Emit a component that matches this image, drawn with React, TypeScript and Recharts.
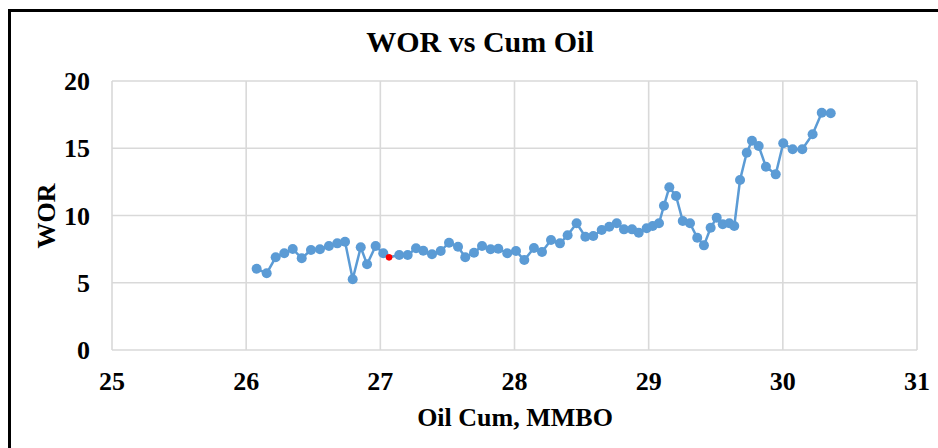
import { LineChart, Line, XAxis, YAxis, CartesianGrid } from 'recharts';

// cumulative oil, MMBO
const cumOil = [
  26.078, 26.153, 26.22, 26.284, 26.347, 26.414, 26.483, 26.55, 26.617, 26.679,
  26.737, 26.794, 26.854, 26.901, 26.965, 27.022, 27.065, 27.141, 27.204, 27.266,
  27.32, 27.385, 27.45, 27.512, 27.579, 27.633, 27.698, 27.758, 27.822, 27.879,
  27.946, 28.011, 28.073, 28.145, 28.205, 28.272, 28.339, 28.396, 28.463, 28.528,
  28.587, 28.65, 28.706, 28.762, 28.816, 28.876, 28.926, 28.985, 29.03, 29.077,
  29.114, 29.154, 29.204, 29.254, 29.308, 29.362, 29.412, 29.462, 29.507, 29.552,
  29.601, 29.638, 29.681, 29.731, 29.77, 29.82, 29.874, 29.947, 30.003, 30.073,
  30.145, 30.222, 30.29, 30.357,
];

// water-oil ratio
const wor = [
  6.04, 5.7, 6.89, 7.19, 7.51, 6.82, 7.43, 7.49, 7.73, 7.93,
  8.05, 5.26, 7.64, 6.37, 7.73, 7.19, 6.89, 7.06, 7.06, 7.56,
  7.38, 7.12, 7.36, 7.98, 7.68, 6.89, 7.23, 7.73, 7.49, 7.53,
  7.19, 7.36, 6.69, 7.58, 7.29, 8.18, 7.93, 8.53, 9.42, 8.42,
  8.48, 8.92, 9.17, 9.42, 8.97, 8.97, 8.72, 9.05, 9.22, 9.42,
  10.73, 12.1, 11.45, 9.59, 9.42, 8.35, 7.78, 9.09, 9.84, 9.35,
  9.42, 9.22, 12.64, 14.67, 15.56, 15.17, 13.63, 13.06, 15.37, 14.92,
  14.92, 16.04, 17.64, 17.6,
];

const highlightIndex = 16;

const xTicks = [25, 26, 27, 28, 29, 30, 31];
const yTicks = [0, 5, 10, 15, 20];

const data = cumOil.map((x, i) => ({ x, wor: wor[i] }));

const font = '"Liberation Serif", "Times New Roman", serif';

const renderDot = (props: any) => {
  const { cx, cy, index } = props;
  if (index === highlightIndex) {
    return <circle key={`dot-${index}`} cx={cx} cy={cy} r={3.3} fill="#ff0000" />;
  }
  return <circle key={`dot-${index}`} cx={cx} cy={cy} r={5} fill="#5b9bd5" />;
};

export default function App() {
  return (
    <div style={{ position: 'absolute', left: 0, top: 0, width: 938, height: 448, background: '#fff', overflow: 'hidden' }}>
      <LineChart width={938} height={448} data={data} margin={{ top: 81, right: 21, bottom: 0, left: 0 }}>
        <CartesianGrid stroke="#d9d9d9" strokeWidth={1.6} />
        <XAxis
          dataKey="x"
          type="number"
          domain={[25, 31]}
          ticks={xTicks}
          height={98}
          axisLine={false}
          tickLine={false}
          tickMargin={16}
          tick={{ fill: '#000', fontSize: 26, fontWeight: 700, fontFamily: font }}
        />
        <YAxis
          type="number"
          domain={[0, 20]}
          ticks={yTicks}
          width={112}
          axisLine={false}
          tickLine={false}
          tickMargin={16}
          tick={{ fill: '#000', fontSize: 26, fontWeight: 700, fontFamily: font }}
        />
        <Line
          dataKey="wor"
          stroke="#5b9bd5"
          strokeWidth={2.5}
          dot={renderDot}
          activeDot={false}
          isAnimationActive={false}
        />
      </LineChart>
      <svg width={938} height={448} style={{ position: 'absolute', left: 0, top: 0, pointerEvents: 'none' }}>
        <text x={480} y={52} textAnchor="middle" fontFamily={font} fontWeight={700} fontSize={30} fill="#000">
          WOR vs Cum Oil
        </text>
        <text x={515} y={426} textAnchor="middle" fontFamily={font} fontWeight={700} fontSize={26} fill="#000">
          Oil Cum, MMBO
        </text>
        <text x={55} y={216} textAnchor="middle" fontFamily={font} fontWeight={700} fontSize={26} fill="#000" transform="rotate(-90 55 216)">
          WOR
        </text>
      </svg>
      <div style={{ position: 'absolute', left: 8, top: 9, width: 940, height: 450, borderLeft: '3px solid #000', borderTop: '3px solid #000', boxSizing: 'border-box' }} />
    </div>
  );
}
